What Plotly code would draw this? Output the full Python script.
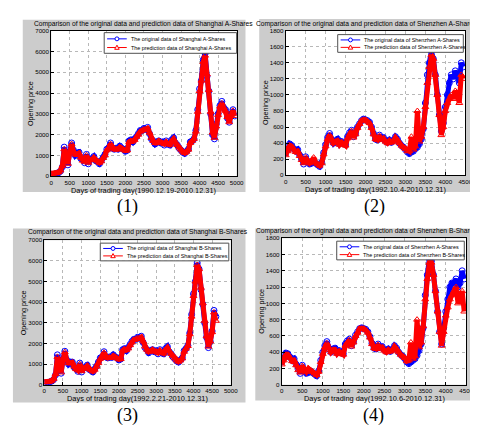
import numpy as np
import plotly.graph_objects as go

W, H = 478, 427

# ---------------- data (step of 50 trading days) ----------------
days_sha = list(range(0, 5000, 50))
sha_orig = [100, 90, 110, 140, 170, 250, 450, 1400, 900, 550,
            1200, 1600, 1250, 1000, 1100, 1150, 850, 800, 650, 1050,
            600, 800, 850, 950, 750, 700, 600, 750, 900, 1050,
            1300, 1350, 1600, 1350, 1300, 1350, 1300, 1450, 1350, 1300,
            1200, 1250, 1700, 1750, 1650, 1800, 1900, 2050, 2200, 2200,
            2300, 2250, 2350, 2050, 1800, 1700, 1550, 1650, 1700, 1600,
            1650, 1500, 1700, 1550, 1500, 1750, 1850, 1600, 1500, 1350,
            1250, 1150, 1100, 1200, 1300, 1650, 1700, 1800, 2200, 3200,
            4200, 4600, 5600, 5900, 4800, 4100, 3000, 2000, 1800, 2500,
            3000, 3400, 3600, 3300, 3200, 2800, 2600, 3000, 3200, 2900]
sha_pred = [120, 130, 140, 160, 200, 280, 500, 1300, 950, 600,
            1150, 1550, 1200, 1050, 1050, 1100, 900, 750, 700, 1000,
            650, 780, 800, 900, 780, 720, 650, 720, 880, 1000,
            1250, 1350, 1550, 1400, 1300, 1300, 1300, 1400, 1350, 1280,
            1230, 1250, 1650, 1700, 1680, 1750, 1900, 2000, 2150, 2200,
            2250, 2250, 2300, 2100, 1850, 1700, 1600, 1600, 1700, 1620,
            1600, 1550, 1650, 1550, 1520, 1700, 1800, 1620, 1500, 1380,
            1280, 1180, 1120, 1180, 1280, 1600, 1700, 1800, 2150, 3100,
            4100, 4600, 5500, 5800, 4900, 4150, 3100, 2100, 1850, 2400,
            2950, 3350, 3500, 3300, 3150, 2850, 2600, 2950, 3150, 2900]

days_shb = list(range(0, 4650, 50))
shb_orig = [100, 90, 110, 140, 180, 260, 480, 1450, 850, 560,
            1250, 1620, 1200, 1000, 1100, 1100, 850, 780, 650, 1050,
            620, 800, 850, 950, 750, 700, 620, 760, 900, 1100,
            1300, 1350, 1600, 1350, 1300, 1350, 1320, 1450, 1350, 1300,
            1200, 1250, 1700, 1750, 1650, 1800, 1950, 2100, 2200, 2200,
            2300, 2250, 2350, 2050, 1800, 1700, 1550, 1650, 1700, 1600,
            1650, 1500, 1700, 1550, 1500, 1750, 1850, 1600, 1500, 1350,
            1250, 1150, 1100, 1200, 1300, 1650, 1750, 1900, 2500, 3400,
            4400, 5000, 5900, 5600, 4600, 3900, 3000, 2300, 1800, 2100,
            2600, 3600, 3300]
shb_pred = [130, 130, 140, 160, 200, 290, 520, 1350, 900, 600,
            1200, 1580, 1220, 1050, 1050, 1080, 880, 760, 700, 1000,
            660, 780, 820, 920, 780, 720, 650, 730, 880, 1050,
            1260, 1350, 1550, 1380, 1300, 1320, 1320, 1400, 1350, 1280,
            1230, 1250, 1650, 1720, 1680, 1760, 1920, 2050, 2180, 2200,
            2260, 2250, 2300, 2100, 1850, 1700, 1600, 1620, 1700, 1620,
            1620, 1550, 1650, 1560, 1520, 1700, 1800, 1620, 1500, 1380,
            1280, 1180, 1120, 1180, 1280, 1600, 1750, 1880, 2450, 3300,
            4300, 5000, 5800, 5600, 4700, 3950, 3100, 2350, 1850, 2100,
            2550, 3500, 3100]

days_sza = list(range(0, 4500, 50))
sza_orig = [280, 320, 390, 370, 330, 300, 320, 250, 200, 140,
            230, 170, 140, 150, 170, 150, 130, 110, 160, 280,
            380, 470, 520, 440, 400, 430, 450, 390, 420, 400,
            380, 480, 530, 560, 480, 520, 600, 640, 680, 700,
            690, 680, 660, 600, 520, 450, 440, 500, 460, 470,
            430, 410, 440, 410, 430, 480, 450, 400, 370, 350,
            320, 290, 270, 290, 300, 330, 350, 390, 450, 580,
            900, 1250, 1400, 1550, 1450, 1250, 1000, 750, 550, 650,
            850, 1000, 1150, 1250, 1200, 1300, 1250, 1150, 1400, 1350]
sza_pred = [250, 300, 370, 360, 320, 290, 300, 240, 190, 150,
            220, 180, 150, 170, 220, 160, 140, 120, 150, 260,
            360, 450, 500, 430, 400, 420, 430, 380, 410, 390,
            370, 460, 510, 550, 470, 510, 590, 640, 680, 690,
            690, 670, 650, 590, 510, 450, 440, 490, 450, 460,
            420, 400, 430, 410, 420, 470, 440, 400, 370, 350,
            330, 300, 300, 480, 320, 360, 800, 420, 480, 600,
            850, 1150, 1350, 1500, 1450, 1250, 1000, 750, 500, 600,
            800, 900, 950, 1000, 950, 1050, 1000, 900, 1250, 1200]

days_szb = list(range(0, 4500, 50))
szb_orig = [280, 330, 390, 380, 340, 300, 320, 250, 190, 140,
            240, 170, 140, 150, 170, 150, 130, 110, 170, 300,
            400, 480, 530, 440, 400, 440, 450, 390, 420, 400,
            380, 500, 540, 560, 480, 530, 610, 650, 690, 700,
            690, 680, 650, 590, 510, 450, 440, 500, 460, 470,
            430, 410, 440, 410, 430, 480, 450, 400, 370, 350,
            320, 280, 260, 280, 300, 320, 360, 420, 500, 700,
            1100, 1350, 1550, 1520, 1350, 1150, 900, 650, 500, 700,
            900, 1050, 1200, 1250, 1250, 1300, 1200, 1250, 1400, 1300]
szb_pred = [250, 300, 370, 370, 330, 290, 300, 240, 180, 150,
            230, 180, 160, 200, 180, 160, 140, 120, 160, 280,
            380, 460, 510, 430, 400, 430, 430, 380, 410, 390,
            370, 480, 520, 550, 470, 520, 600, 640, 690, 690,
            690, 670, 640, 580, 500, 450, 440, 490, 450, 460,
            420, 400, 430, 410, 420, 470, 440, 400, 370, 350,
            330, 290, 300, 520, 320, 350, 800, 460, 520, 720,
            1050, 1300, 1500, 1500, 1350, 1150, 900, 650, 480, 650,
            850, 950, 1050, 1100, 1150, 1200, 1000, 1100, 1150, 900]

titles = ["Comparison of the original data and prediction data of Shanghai A-Shares",
          "Comparison of the original data and prediction data of Shenzhen A-Shares",
          "Comparison of the original data and prediction data of Shanghai B-Shares",
          "Comparison of the original data and prediction data of Shenzhen B-Shares"]
xlabels = ["Days of trading day(1990.12.19-2010.12.31)",
           "Days of trading day(1992.10.4-2010.12.31)",
           "Days of trading day(1992.2.21-2010.12.31)",
           "Days of trading day(1992.10.6-2010.12.31)"]
orig_names = ["The original data of Shanghai A-Shares",
              "The original data of Shenzhen A-Shares",
              "The original data of Shanghai B-Shares",
              "The original data of Shenzhen A-Shares"]
pred_names = ["The prediction data of Shanghai A-Shares",
              "The prediction data of Shenzhen A-Shares",
              "The prediction data of Shanghai B-Shares",
              "The prediction data of Shenzhen B-Shares"]
panel_labels = ["(1)", "(2)", "(3)", "(4)"]

series = [(days_sha, sha_orig, sha_pred), (days_sza, sza_orig, sza_pred),
          (days_shb, shb_orig, shb_pred), (days_szb, szb_orig, szb_pred)]
xmax = [5000, 4500, 5000, 4500]
ymax = [7000, 1800, 7000, 1800]
ydt = [1000, 200, 1000, 200]

# ---------------- layout geometry (pixels) ----------------
plot_px = [(42, 19, 231, 167), (281, 19, 464, 166), (35, 232, 225, 379), (277, 230, 465, 379)]
bg_px = [(13, 8, 240, 183), (254, 7, 478, 183), (3, 220, 240, 397), (250, 220, 478, 395)]
leg_px = [(96, 21, 231, 42), (334, 23, 462, 41), (92, 235, 223, 253), (333, 233, 463, 252)]
title_y = [12, 12, 224, 223]
xlab_y = [181, 180, 393, 393]
ylab_x = [21, 261, 14, 256]
lab_pos = [(120, 198), (372, 198), (120, 410), (370, 410)]

def px(x):
    return x / W

def py(y):
    return 1 - y / H

fig = go.Figure()
FONT = "Liberation Sans, Arial, sans-serif"
shapes, annotations = [], []
BLUE, RED = "#0000ff", "#ff0000"

for i in range(4):
    ax = "" if i == 0 else str(i + 1)
    d, o, p = series[i]
    fig.add_trace(go.Scatter(x=d, y=o, mode="lines+markers", name=orig_names[i],
                             line=dict(color=BLUE, width=5),
                             marker=dict(symbol="circle-open", size=6, color=BLUE, line=dict(width=1)),
                             xaxis="x" + ax, yaxis="y" + ax, showlegend=False))
    fig.add_trace(go.Scatter(x=d, y=p, mode="lines+markers", name=pred_names[i],
                             line=dict(color=RED, width=5),
                             marker=dict(symbol="triangle-up-open", size=6, color=RED, line=dict(width=1)),
                             xaxis="x" + ax, yaxis="y" + ax, showlegend=False))
    x0, y0, x1, y1 = plot_px[i]
    axis_common = dict(showline=True, mirror=True, linecolor="black", linewidth=1,
                       ticks="inside", ticklen=3, tickcolor="black",
                       tickfont=dict(family=FONT, size=6.2, color="black"),
                       showgrid=True, gridcolor="#b8b8b8", griddash="dot", gridwidth=1,
                       zeroline=False, fixedrange=True)
    fig.update_layout(**{
        "xaxis" + ax: dict(domain=[px(x0), px(x1)], range=[0, xmax[i]], dtick=500,
                           anchor="y" + ax, ticklabelstandoff=0, **axis_common),
        "yaxis" + ax: dict(domain=[py(y1), py(y0)], range=[0, ymax[i]], dtick=ydt[i],
                           anchor="x" + ax, ticklabelstandoff=0, **axis_common),
    })
    bx0, by0, bx1, by1 = bg_px[i]
    shapes.append(dict(type="rect", xref="paper", yref="paper", x0=px(bx0), x1=px(bx1),
                       y0=py(by1), y1=py(by0), fillcolor="#cccccc", line=dict(width=0),
                       layer="below"))
    shapes.append(dict(type="rect", xref="paper", yref="paper", x0=px(x0), x1=px(x1),
                       y0=py(y1), y1=py(y0), fillcolor="white", line=dict(width=0),
                       layer="below"))
    cx = (x0 + x1) / 2
    if i in (1, 3):
        annotations.append(dict(text=titles[i], x=px(477.5), y=py(title_y[i]), xref="paper", yref="paper",
                                showarrow=False, xanchor="right", yanchor="middle",
                                font=dict(family=FONT, size=6.7, color="black")))
    else:
        annotations.append(dict(text=titles[i], x=px(cx), y=py(title_y[i]), xref="paper", yref="paper",
                                showarrow=False, xanchor="center", yanchor="middle",
                                font=dict(family=FONT, size=6.7, color="black")))
    annotations.append(dict(text=xlabels[i], x=px(cx), y=py(xlab_y[i]), xref="paper", yref="paper",
                            showarrow=False, xanchor="center", yanchor="middle",
                            font=dict(family=FONT, size=7.4, color="black")))
    annotations.append(dict(text="Opening price", x=px(ylab_x[i]), y=py((y0 + y1) / 2),
                            xref="paper", yref="paper", showarrow=False, textangle=-90,
                            xanchor="center", yanchor="middle",
                            font=dict(family=FONT, size=7.2, color="black")))
    lx, ly = lab_pos[i]
    annotations.append(dict(text=panel_labels[i], x=px(lx), y=py(ly), xref="paper", yref="paper",
                            showarrow=False, xanchor="center", yanchor="middle",
                            font=dict(family="Liberation Serif, Times New Roman, serif", size=18,
                                      color="black")))
    # ---- custom MATLAB-like legend box ----
    gx0, gy0, gx1, gy1 = leg_px[i]
    shapes.append(dict(type="rect", xref="paper", yref="paper", x0=px(gx0), x1=px(gx1),
                       y0=py(gy1), y1=py(gy0), fillcolor="white",
                       line=dict(color="#505050", width=1), layer="above"))
    hh = gy1 - gy0
    for k, (col, name, sym) in enumerate([(BLUE, orig_names[i], "o"), (RED, pred_names[i], "^")]):
        ry = gy0 + hh * (0.3 if k == 0 else 0.72)
        sx0, sx1 = gx0 + 3, gx0 + 23
        mx = (sx0 + sx1) / 2
        shapes.append(dict(type="line", xref="paper", yref="paper", x0=px(sx0), x1=px(sx1),
                           y0=py(ry), y1=py(ry), line=dict(color=col, width=1), layer="above"))
        if sym == "o":
            shapes.append(dict(type="circle", xref="paper", yref="paper", x0=px(mx - 2), x1=px(mx + 2),
                               y0=py(ry + 2), y1=py(ry - 2), line=dict(color=col, width=1),
                               fillcolor="white", layer="above"))
        else:
            path = "M {:.5f},{:.5f} L {:.5f},{:.5f} L {:.5f},{:.5f} Z".format(
                px(mx - 2.3), py(ry + 1.8), px(mx + 2.3), py(ry + 1.8), px(mx), py(ry - 2.4))
            shapes.append(dict(type="path", xref="paper", yref="paper", path=path,
                               line=dict(color=col, width=1), fillcolor="white", layer="above"))
        annotations.append(dict(text=name, x=px(sx1 + 2), y=py(ry), xref="paper", yref="paper",
                                showarrow=False, xanchor="left", yanchor="middle",
                                font=dict(family=FONT, size=5.4, color="black")))

fig.update_layout(width=W, height=H, margin=dict(l=0, r=0, t=0, b=0),
                  paper_bgcolor="white", plot_bgcolor="rgba(0,0,0,0)",
                  shapes=shapes, annotations=annotations, showlegend=False)
fig.write_html("out.html")
